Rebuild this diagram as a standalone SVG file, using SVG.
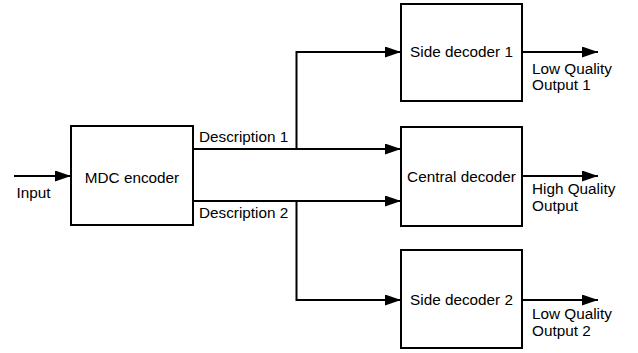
<svg xmlns="http://www.w3.org/2000/svg" width="638" height="353" viewBox="0 0 638 353">
<style>
.box{fill:#fff;stroke:#000;stroke-width:2}
.lbl{font-family:"Liberation Sans",Arial,sans-serif;font-size:15.3px;fill:#000}
.mid{text-anchor:middle}
.con{fill:none;stroke:#000;stroke-width:2;marker-end:url(#ah)}
</style>
<defs>
<marker id="ah" markerUnits="userSpaceOnUse" markerWidth="16" markerHeight="11" refX="16" refY="5.5" orient="auto">
<path d="M0,0 L16,5.5 L0,11 z" fill="#000"/>
</marker>
</defs>
<rect width="638" height="353" fill="#fff"/>
<g id="connectors">
<path class="con" d="M14,176 H71"/>
<path class="con" d="M193,149 H401"/>
<path class="con" d="M193,201 H401"/>
<path class="con" d="M296.5,149 V52 H401"/>
<path class="con" d="M296.5,201 V300 H401"/>
<path class="con" d="M522,52 H598"/>
<path class="con" d="M522,176 H598"/>
<path class="con" d="M522,300 H598"/>
<text class="lbl" x="16.5" y="198.3">Input</text>
<text class="lbl" x="199" y="141.7">Description 1</text>
<text class="lbl" x="199" y="218.3">Description 2</text>
<text class="lbl" x="532" y="74">Low Quality</text>
<text class="lbl" x="532" y="90">Output 1</text>
<text class="lbl" x="532" y="194">High Quality</text>
<text class="lbl" x="532" y="210.7">Output</text>
<text class="lbl" x="532" y="319.3">Low Quality</text>
<text class="lbl" x="532" y="336">Output 2</text>
</g>
<g id="mdc-encoder">
<rect class="box" x="71" y="126" width="122" height="99"/>
<text class="lbl mid" x="132" y="182.7">MDC encoder</text>
</g>
<g id="side-decoder-1">
<rect class="box" x="401" y="4" width="121" height="97"/>
<text class="lbl mid" x="461.5" y="57.3">Side decoder 1</text>
</g>
<g id="central-decoder">
<rect class="box" x="401" y="127" width="121" height="99"/>
<text class="lbl mid" x="461.5" y="182.3">Central decoder</text>
</g>
<g id="side-decoder-2">
<rect class="box" x="401" y="250" width="121" height="98"/>
<text class="lbl mid" x="461.5" y="305">Side decoder 2</text>
</g>
</svg>
